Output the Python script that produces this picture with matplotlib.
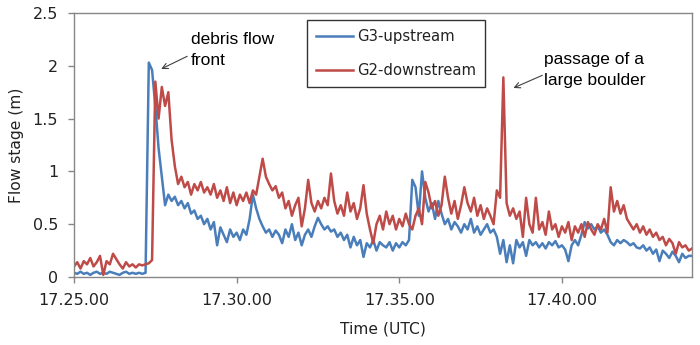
import numpy as np
import matplotlib
matplotlib.use('Agg')
import matplotlib.pyplot as plt

# flow stage (m), one value every 0.1 min from 17:25
g3_upstream = [
    0.04, 0.03, 0.05, 0.03, 0.04, 0.02, 0.04, 0.05, 0.03, 0.04,
    0.03, 0.05, 0.04, 0.03, 0.02, 0.04, 0.05, 0.03, 0.04, 0.03,
    0.04, 0.03, 0.04, 2.03, 1.96, 1.62, 1.22, 0.95, 0.68, 0.78,
    0.72, 0.76, 0.68, 0.72, 0.65, 0.70, 0.60, 0.63, 0.55, 0.58,
    0.50, 0.55, 0.45, 0.52, 0.30, 0.47, 0.40, 0.33, 0.45, 0.38,
    0.42, 0.35, 0.45, 0.40, 0.55, 0.78, 0.65, 0.55, 0.48, 0.42,
    0.45, 0.38, 0.44, 0.40, 0.32, 0.45, 0.38, 0.50, 0.35, 0.42,
    0.30, 0.40, 0.45, 0.38, 0.48, 0.56, 0.50, 0.45, 0.48, 0.43,
    0.45, 0.38, 0.42, 0.35, 0.40, 0.28, 0.38, 0.30, 0.35, 0.19,
    0.32, 0.28, 0.35, 0.25, 0.33, 0.30, 0.28, 0.33, 0.25, 0.32,
    0.28, 0.33, 0.30, 0.35, 0.92, 0.85, 0.58, 1.00, 0.75, 0.62,
    0.70, 0.55, 0.72, 0.60, 0.50, 0.55, 0.45, 0.52, 0.48, 0.42,
    0.50, 0.45, 0.55, 0.42, 0.48, 0.40, 0.45, 0.50, 0.42, 0.45,
    0.38, 0.22, 0.35, 0.14, 0.30, 0.13, 0.35, 0.28, 0.33, 0.20,
    0.35, 0.30, 0.33, 0.28, 0.32, 0.27, 0.33, 0.30, 0.34, 0.28,
    0.30, 0.26, 0.15, 0.30, 0.35, 0.30, 0.40, 0.52, 0.46, 0.50,
    0.45, 0.48, 0.42, 0.45, 0.40, 0.33, 0.30, 0.35, 0.32, 0.35,
    0.33, 0.30, 0.32, 0.28, 0.27, 0.30, 0.25, 0.28, 0.22, 0.26,
    0.15, 0.25, 0.22, 0.18, 0.24, 0.20, 0.14, 0.22, 0.18, 0.20, 0.20,
]
g2_downstream = [
    0.10, 0.14, 0.08, 0.15, 0.12, 0.18, 0.10, 0.14, 0.20, 0.02,
    0.15, 0.12, 0.22, 0.17, 0.12, 0.08, 0.14, 0.10, 0.12, 0.09,
    0.12, 0.11, 0.12, 0.13, 0.16, 1.85, 1.50, 1.80, 1.62, 1.75,
    1.30, 1.05, 0.88, 0.95, 0.85, 0.90, 0.78, 0.88, 0.82, 0.90,
    0.80, 0.85, 0.78, 0.88, 0.75, 0.82, 0.72, 0.85, 0.70, 0.80,
    0.68, 0.78, 0.72, 0.80, 0.70, 0.82, 0.78, 0.95, 1.12, 0.95,
    0.88, 0.82, 0.86, 0.75, 0.80, 0.65, 0.72, 0.58, 0.68, 0.75,
    0.48, 0.65, 0.92, 0.70, 0.62, 0.72, 0.65, 0.75, 0.68, 0.98,
    0.72, 0.60, 0.68, 0.58, 0.80, 0.62, 0.70, 0.55, 0.65, 0.87,
    0.60, 0.45, 0.32, 0.50, 0.58, 0.45, 0.62, 0.50, 0.58, 0.45,
    0.55, 0.48, 0.60, 0.50, 0.45, 0.58, 0.65, 0.50, 0.90, 0.80,
    0.65, 0.72, 0.58, 0.68, 0.95, 0.75, 0.60, 0.72, 0.55, 0.68,
    0.85, 0.70, 0.62, 0.75, 0.58, 0.68, 0.55, 0.65, 0.58, 0.50,
    0.82, 0.75, 1.89, 0.70, 0.58, 0.65, 0.55, 0.62, 0.38, 0.75,
    0.50, 0.42, 0.75, 0.45, 0.52, 0.40, 0.62, 0.45, 0.50, 0.38,
    0.48, 0.42, 0.52, 0.35, 0.48, 0.42, 0.50, 0.38, 0.52, 0.45,
    0.40, 0.50, 0.45, 0.55, 0.42, 0.85, 0.62, 0.72, 0.60, 0.68,
    0.55, 0.50, 0.45, 0.50, 0.42, 0.48, 0.40, 0.45, 0.38, 0.42,
    0.35, 0.38, 0.30, 0.36, 0.32, 0.22, 0.33, 0.28, 0.30, 0.25, 0.27,
]
tick_minutes = [25, 30, 35, 40]
tick_labels = ['17.25.00', '17.30.00', '17.35.00', '17.40.00']

minutes = 25 + 0.1 * np.arange(len(g3_upstream))

fig = plt.figure(figsize=(7, 3.45), dpi=100)
ax = fig.add_axes([74 / 700, 68 / 345, 618 / 700, 264 / 345])

ax.plot(minutes, g3_upstream, color='#4a7ebb', lw=1.8, label='G3-upstream')
ax.plot(minutes, g2_downstream, color='#be4b48', lw=1.8, label='G2-downstream')

ax.set_xlim(25, 44)
ax.set_ylim(0, 2.5)
ax.set_xticks(tick_minutes)
ax.set_xticklabels(tick_labels)
ax.set_yticks([0, 0.5, 1, 1.5, 2, 2.5])
ax.set_yticklabels(['0', '0.5', '1', '1.5', '2', '2.5'])
for s in ax.spines.values():
    s.set_color('#868686')
    s.set_linewidth(1)
ax.tick_params(colors='#868686', labelcolor='#222222', labelsize=11.5, length=4.5, width=1, pad=7)
ax.set_ylabel('Flow stage (m)', fontsize=11.2, color='#222222', labelpad=6)
ax.set_xlabel('Time (UTC)', fontsize=11.2, color='#222222', labelpad=10)

leg = ax.legend(loc='upper left', bbox_to_anchor=(307 / 700, 1 - 20 / 345), bbox_transform=fig.transFigure,
                borderaxespad=0, fontsize=10.7, handlelength=2.5, handletextpad=0.3, borderpad=0.6,
                labelspacing=1.3, fancybox=False, framealpha=1)
leg.get_frame().set_edgecolor('#333333')
leg.get_frame().set_linewidth(1)
for t in leg.get_texts():
    t.set_color('#222222')

font = dict(family='Liberation Sans', fontsize=12.5, color='black', linespacing=1.45, va='center')
ax.text(28.6, 2.15, 'debris flow\nfront', **font)
ax.annotate('', xy=(27.68, 1.97), xytext=(28.48, 2.09),
            arrowprops=dict(arrowstyle='->', color='#404040', lw=0.8, shrinkA=0, shrinkB=0))
ax.text(39.46, 1.96, 'passage of a\nlarge boulder', **font)
ax.annotate('', xy=(38.51, 1.79), xytext=(39.4, 1.91),
            arrowprops=dict(arrowstyle='->', color='#404040', lw=0.8, shrinkA=0, shrinkB=0))

fig.savefig('out.png', dpi=100)
